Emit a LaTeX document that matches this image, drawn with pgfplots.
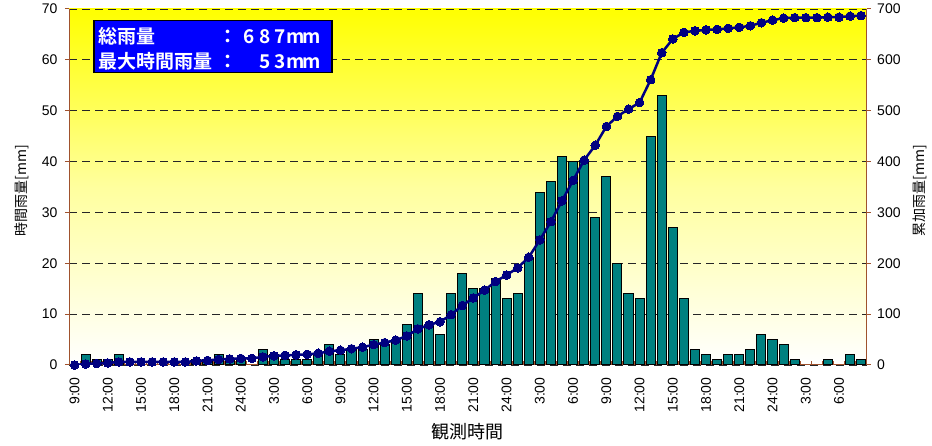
\documentclass[border=0pt]{standalone}
\usepackage{pgfplots}
\usepackage{pgfplotstable}
\pgfplotsset{compat=1.18}
\usepackage{fontspec}
\setmainfont{Liberation Sans}
\newfontfamily\jp{Noto Sans CJK JP}[BoldFont={* Bold}]
\definecolor{axbrown}{RGB}{160,82,45}
\definecolor{barteal}{RGB}{0,128,128}
\definecolor{linenavy}{RGB}{0,0,128}
\definecolor{boxblue}{RGB}{0,0,255}
\newcommand\cc[1]{\makebox[15.5pt]{#1}}
\pgfplotsset{/pgf/number format/assume math mode=true}

\pgfplotstableread{
i rain cum
0 0 0
1 2 2
2 1 3
3 1 4
4 2 6
5 0 6
6 0 6
7 0 6
8 0 6
9 0 6
10 0 6
11 1 8
12 1 9
13 2 11
14 1 12
15 1 13
16 0 13
17 3 16
18 2 18
19 1 19
20 1 20
21 1 21
22 2 23
23 4 27
24 2 29
25 3 32
26 3 35
27 5 40
28 4 44
29 5 49
30 8 57
31 14 71
32 8 79
33 6 85
34 14 99
35 18 117
36 15 132
37 15 147
38 17 164
39 13 177
40 14 191
41 21 212
42 34 246
43 36 282
44 41 323
45 40 363
46 40 403
47 29 432
48 37 469
49 20 489
50 14 503
51 13 516
52 45 561
53 53 614
54 27 641
55 13 654
56 3 657
57 2 659
58 1 660
59 2 662
60 2 664
61 3 667
62 6 673
63 5 678
64 4 682
65 1 683
66 0 683
67 0 683
68 1 684
69 0 684
70 2 686
71 1 687
}\datatable

\begin{document}
\begin{tikzpicture}
\path[use as bounding box] (0,0) rectangle (932pt,446pt);
\begin{axis}[
  at={(69pt,81pt)}, anchor=south west,
  scale only axis, width=797.7pt, height=356pt,
  xmin=-0.5, xmax=71.5, ymin=0, ymax=70,
  axis x line*=bottom, axis y line*=left,
  axis line style={draw=axbrown, line width=1pt, -},
  axis background/.style={top color=yellow, bottom color=white, middle color=yellow!38!white},
  xtick={0,3,...,69},
  xticklabels={9:00,12:00,15:00,18:00,21:00,24:00,3:00,6:00,9:00,12:00,15:00,18:00,21:00,24:00,3:00,6:00,9:00,12:00,15:00,18:00,21:00,24:00,3:00,6:00},
  minor xtick={-0.5,0.5,...,71.5},
  xtick align=inside,
  major x tick style={draw=none},
  minor x tick style={draw=axbrown, line width=1pt},
  minor tick length=4pt,
  x tick label style={yshift=-9pt, rotate=90, anchor=east, font=\fontsize{14}{14}\selectfont},
  ytick={0,10,...,70},
  ytick align=outside,
  major y tick style={draw=axbrown, line width=1pt},
  major tick length=4pt,
  y tick label style={font=\fontsize{14}{14}\selectfont, xshift=-4pt},
  ymajorgrids,
  major grid style={draw=black!85, dash pattern=on 8pt off 5pt, line width=0.8pt},
  xlabel={\jp 観測時間},
  xlabel style={at={(axis description cs:0.5,-0.188)}, anchor=center, font=\jp\fontsize{18}{18}\selectfont},
  ylabel={\jp 時間雨量[mm]},
  ylabel style={at={(axis description cs:-0.059,0.49)}, anchor=center, rotate=0, font=\jp\fontsize{14}{14}\selectfont},
]
\addplot[ybar, bar width=0.82, fill=barteal, draw=black, line width=1pt, restrict y to domain=0.1:100] table[x=i, y=rain]{\datatable};
\end{axis}
\begin{axis}[
  at={(69pt,81pt)}, anchor=south west,
  scale only axis, width=797.7pt, height=356pt,
  xmin=-0.5, xmax=71.5, ymin=0, ymax=700,
  axis x line=none, axis y line*=right,
  axis line style={draw=axbrown, line width=1pt, -},
  ytick={0,100,...,700},
  ytick align=outside,
  major y tick style={draw=axbrown, line width=1pt},
  major tick length=4pt,
  y tick label style={font=\fontsize{14}{14}\selectfont, xshift=3pt},
  ylabel={\jp 累加雨量[mm]},
  ylabel style={at={(axis description cs:1.067,0.49)}, anchor=center, rotate=0, font=\jp\fontsize{14}{14}\selectfont},
]
\addplot[linenavy, line width=2.5pt, mark=*, mark size=4.3pt, mark options={fill=linenavy, draw=linenavy, line width=0pt}] table[x=i, y=cum]{\datatable};
\end{axis}
\node[draw=black, fill=boxblue, line width=1.5pt, minimum width=238pt, minimum height=52pt, inner sep=0pt, anchor=north west] at (93pt,426pt) {};
\node[anchor=base west, inner sep=0pt, text=white, font=\jp\bfseries\fontsize{19}{19}\selectfont] at (98pt,402.3pt)
  {\makebox[120pt][l]{総雨量}\makebox[19pt]{：}\makebox[82pt][r]{\cc{6}\cc{8}\cc{7}\cc{m}\cc{m}}};
\node[anchor=base west, inner sep=0pt, text=white, font=\jp\bfseries\fontsize{19}{19}\selectfont] at (98pt,377.3pt)
  {\makebox[120pt][l]{最大時間雨量}\makebox[19pt]{：}\makebox[82pt][r]{\cc{5}\cc{3}\cc{m}\cc{m}}};
\end{tikzpicture}
\end{document}
